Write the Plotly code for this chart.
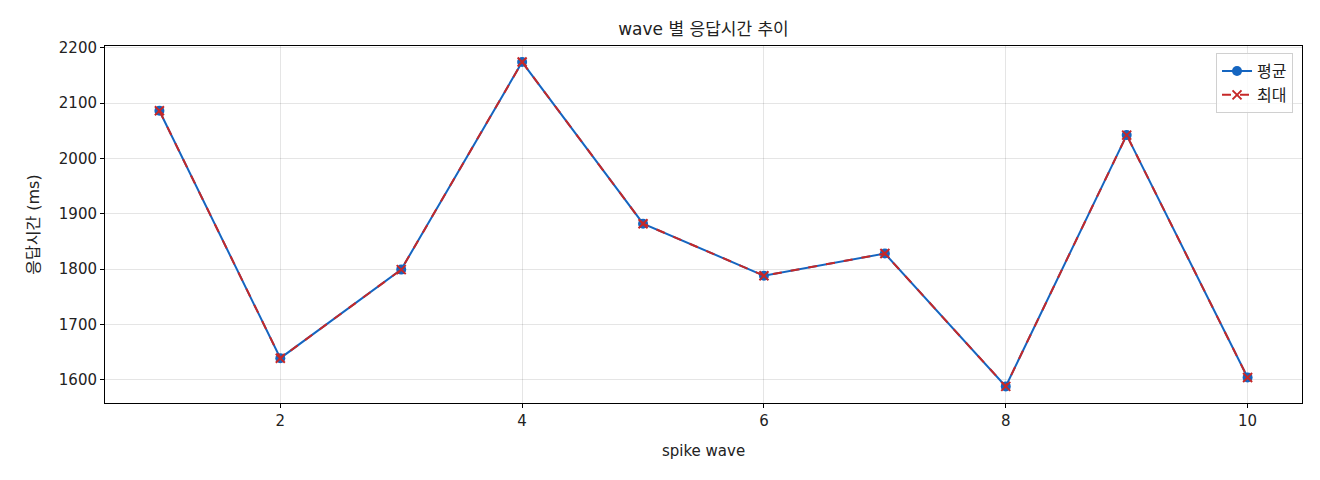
import plotly.graph_objects as go

# spike wave 별 응답시간 (ms)
waves = [1, 2, 3, 4, 5, 6, 7, 8, 9, 10]
avg_ms = [2086, 1639, 1799, 2174, 1882, 1788, 1828, 1588, 2042, 1604]
max_ms = [2086, 1639, 1799, 2174, 1882, 1788, 1828, 1588, 2042, 1604]

font_name = "DejaVu Sans, Noto Sans CJK KR"

fig = go.Figure()
fig.add_trace(go.Scatter(
    x=waves, y=avg_ms, name="평균", mode="lines+markers",
    line=dict(color="#1565c0", width=2),
    marker=dict(symbol="circle", size=10, color="#1565c0"),
))
fig.add_trace(go.Scatter(
    x=waves, y=max_ms, name="최대", mode="lines+markers",
    line=dict(color="#c62828", width=2, dash="dash"),
    marker=dict(symbol="x-thin", size=9, line=dict(color="#c62828", width=2)),
))

axis_style = dict(
    showline=True, linecolor="black", linewidth=1, mirror=True,
    ticks="outside", ticklen=4, tickcolor="black",
    showgrid=True, gridcolor="rgba(0,0,0,0.1)", gridwidth=1,
    zeroline=False, tickfont=dict(size=15, color="#222"),
)

fig.update_layout(
    width=1320, height=480,
    margin=dict(l=97, r=26, t=38, b=85),
    paper_bgcolor="white", plot_bgcolor="white",
    font=dict(family=font_name, size=14, color="#222"),
    title=dict(text="wave 별 응답시간 추이", x=0.5, xref="paper", xanchor="center",
               y=0.956, yanchor="middle", font=dict(size=17, color="#222")),
    legend=dict(x=0.9925, y=0.98, xanchor="right", yanchor="top",
                bgcolor="rgba(255,255,255,0.8)", bordercolor="#d0d0d0", borderwidth=1,
                font=dict(size=16)),
)
fig.update_xaxes(axis_style, range=[0.55, 10.45], tickvals=[2, 4, 6, 8, 10],
                 title=dict(text="spike wave", font=dict(size=15), standoff=16))
fig.update_yaxes(axis_style, range=[1558, 2203], tickvals=[1600, 1700, 1800, 1900, 2000, 2100, 2200],
                 title=dict(text="응답시간 (ms)", font=dict(size=16), standoff=15))

fig.write_html("out.html")
